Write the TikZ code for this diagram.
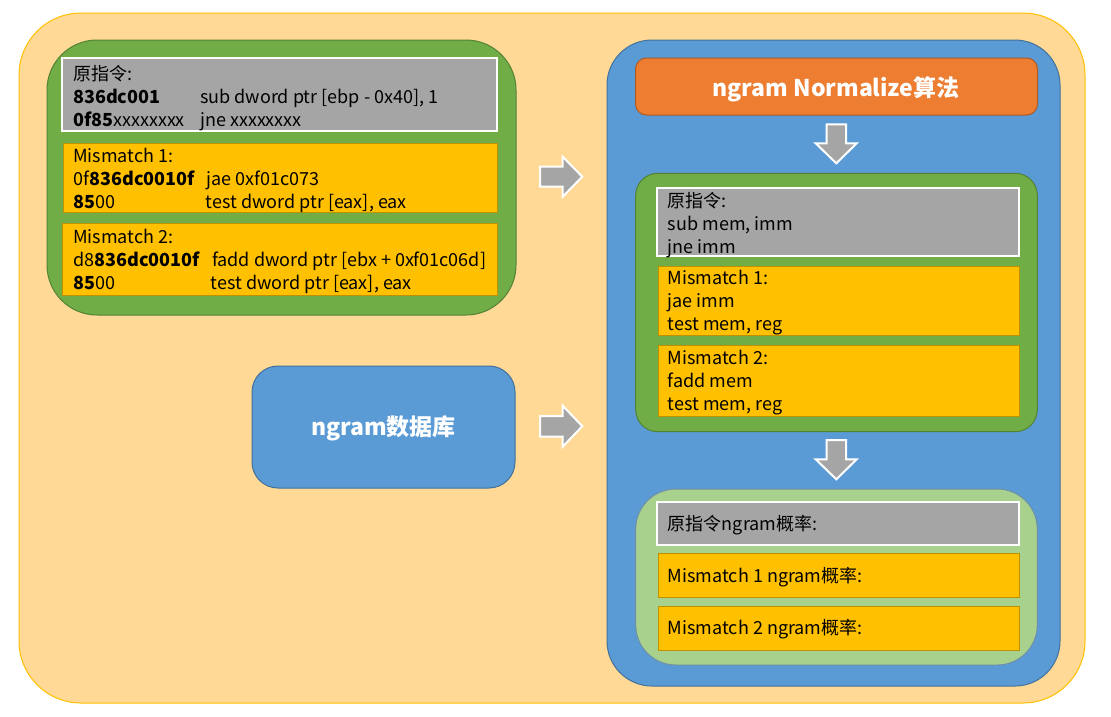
\documentclass[tikz,border=0pt]{standalone}
\usepackage{fontspec}
\setmainfont{Noto Sans CJK SC}
\definecolor{outerfill}{HTML}{FFD995}
\definecolor{outerline}{HTML}{FFC000}
\definecolor{grn}{HTML}{70AD47}
\definecolor{grnline}{HTML}{548235}
\definecolor{gry}{HTML}{A5A5A5}
\definecolor{ylw}{HTML}{FFC000}
\definecolor{ylwline}{HTML}{BF9000}
\definecolor{blu}{HTML}{5B9BD5}
\definecolor{bluline}{HTML}{41719C}
\definecolor{org}{HTML}{ED7D31}
\definecolor{orgline}{HTML}{AE5A21}
\definecolor{lgrn}{HTML}{A9D18E}
\definecolor{lgrnline}{HTML}{6E8FA5}
\tikzset{
  txt/.style={inner sep=0pt, anchor=base west, font=\fontsize{18}{23}\selectfont, text=black},
  title/.style={inner sep=0pt, anchor=base, font=\fontsize{23}{28}\selectfont\bfseries, text=white},
  graybox/.style={fill=gry, draw=white, line width=2pt},
  ylwbox/.style={fill=ylw, draw=ylwline, line width=1pt},
  blockarrow/.style={fill=gry, draw=white, line width=2pt, line join=miter},
}
\begin{document}
\begin{tikzpicture}[x=1pt,y=-1pt]
\useasboundingbox (0,0) rectangle (1111,716);
% outer
\draw[fill=outerfill, draw=outerline, line width=1pt, rounded corners=62pt] (19,13) rectangle (1085,703);
% top-left green
\draw[fill=grn, draw=grnline, line width=1pt, rounded corners=50pt] (47,40) rectangle (516,315);
\draw[graybox] (62,58) rectangle (497,131);
\draw[ylwbox] (63,143) rectangle (497,212);
\draw[ylwbox] (62,223) rectangle (497,295);
\node[txt] (a1) at (73,80) {原指令:};
\node[txt] (a2) at (73,103) {\textbf{836dc001}};
\node[txt] (a3) at (73,126) {\textbf{0f85}xxxxxxxx};
\node[txt] (a2b) at (200,103) {sub dword ptr [ebp - 0x40], 1};
\node[txt] (a3b) at (200,126) {jne xxxxxxxx};
\node[txt] (b1) at (73,162.5) {Mismatch 1:};
\node[txt] (b2) at (73,185.5) {0f\textbf{836dc0010f}};
\node[txt] (b3) at (73,208.5) {\textbf{85}00};
\node[txt] (b2b) at (206.5,185.5) {jae 0xf01c073};
\node[txt] (b3b) at (205.5,208.5) {test dword ptr [eax], eax};
\node[txt] (c1) at (73,243) {Mismatch 2:};
\node[txt] (c2) at (73,266) {d8\textbf{836dc0010f}};
\node[txt] (c3) at (73,289) {\textbf{85}00};
\node[txt] (c2b) at (212,266) {fadd dword ptr [ebx + 0xf01c06d]};
\node[txt] (c3b) at (210.5,289) {test dword ptr [eax], eax};
% ngram db
\draw[fill=blu, draw=bluline, line width=1pt, rounded corners=26pt] (252,366) rectangle (515,488);
\node[title] (db) at (383.5,435) {ngram数据库};
% right arrows
\draw[blockarrow] (540,166.7) -- (562.7,166.7) -- (562.7,156.7) -- (582.3,176.7) -- (562.7,196.7) -- (562.7,186.7) -- (540,186.7) -- cycle;
\draw[blockarrow] (540,416) -- (562.7,416) -- (562.7,405.7) -- (582.3,426.2) -- (562.7,446.7) -- (562.7,436.5) -- (540,436.5) -- cycle;
% right blue
\draw[fill=blu, draw=bluline, line width=1pt, rounded corners=45pt] (607,40) rectangle (1060,686);
\draw[fill=org, draw=orgline, line width=1pt, rounded corners=11pt] (635.5,58) rectangle (1037.5,115);
\node[title] (norm) at (836,96.5) {ngram Normalize算法};
% down arrow 1
\draw[blockarrow] (826.7,124.3) -- (846,124.3) -- (846,143.3) -- (856.7,143.3) -- (836.3,163.3) -- (815.7,143.3) -- (826.7,143.3) -- cycle;
% inner green
\draw[fill=grn, draw=grnline, line width=1pt, rounded corners=22pt] (635.7,173.3) rectangle (1037.3,431.7);
\draw[graybox] (656.7,187.7) rectangle (1019.3,256);
\draw[ylwbox] (658,266.7) rectangle (1019,335);
\draw[ylwbox] (658,345) rectangle (1019,416);
\node[txt] (d1) at (667.7,207.5) {原指令:};
\node[txt] (d2) at (667.7,230) {sub mem, imm};
\node[txt] (d3) at (667.7,253) {jne imm};
\node[txt] (e1) at (667.7,284.3) {Mismatch 1:};
\node[txt] (e2) at (667.7,307.5) {jae imm};
\node[txt] (e3) at (667.7,330) {test mem, reg};
\node[txt] (f1) at (667.7,364.3) {Mismatch 2:};
\node[txt] (f2) at (667.7,387.3) {fadd mem};
\node[txt] (f3) at (667.7,410.5) {test mem, reg};
% down arrow 2
\draw[blockarrow] (826.7,440) -- (846,440) -- (846,459.3) -- (856.7,459.3) -- (836.3,479.3) -- (815.7,459.3) -- (826.7,459.3) -- cycle;
% light green
\draw[fill=lgrn, draw=lgrnline, line width=1pt, rounded corners=40pt] (635.7,489) rectangle (1037.3,665);
\draw[graybox] (656.7,501.7) rectangle (1019.3,545);
\draw[ylwbox] (658,553.3) rectangle (1019,597.3);
\draw[ylwbox] (658,606) rectangle (1019,650.7);
\node[txt] (g1) at (667.7,530) {原指令ngram概率:};
\node[txt] (g2) at (667.7,582.7) {Mismatch 1 ngram概率:};
\node[txt] (g3) at (667.7,634.3) {Mismatch 2 ngram概率:};
\end{tikzpicture}
\end{document}
